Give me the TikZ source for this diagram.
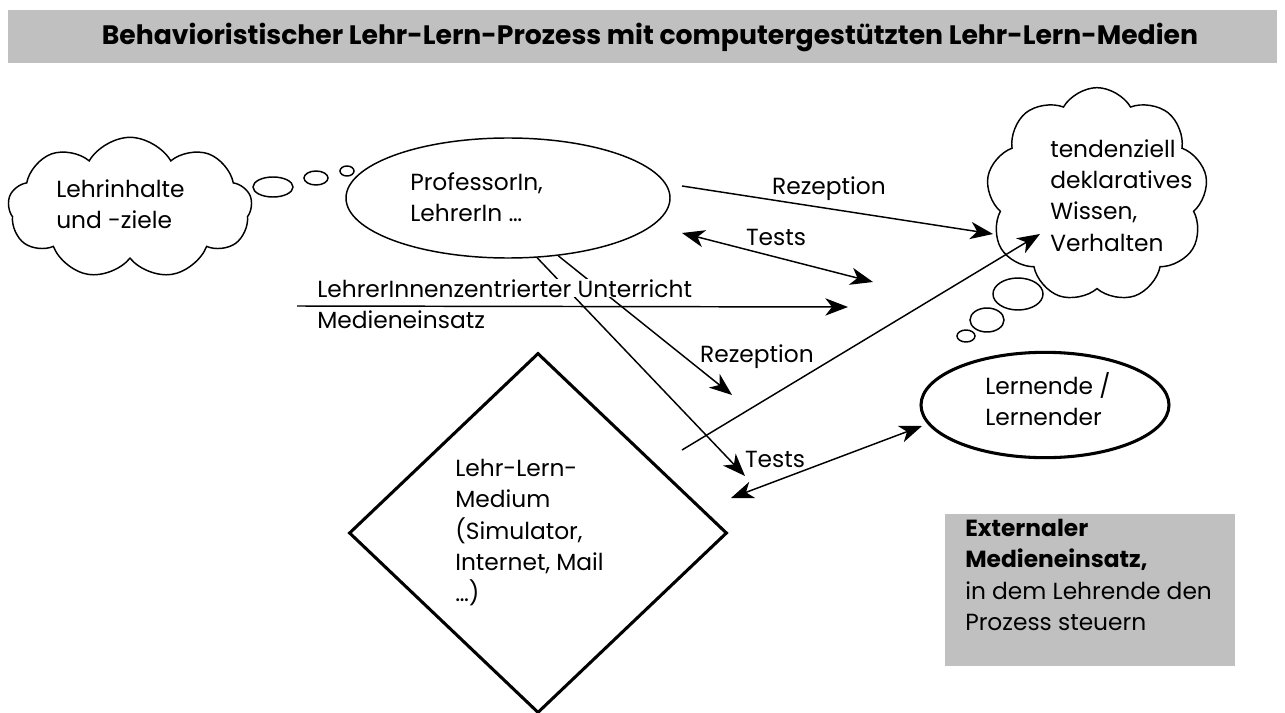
\documentclass[tikz,border=0pt]{standalone}
\usepackage{fontspec}
\setmainfont{Poppins}
\usetikzlibrary{shapes.geometric,shapes.symbols,arrows.meta}
\definecolor{boxgray}{HTML}{C0C0C0}

\begin{document}
\begin{tikzpicture}[x=0.75pt,y=-0.75pt,
  txt/.style={align=left,inner sep=0pt,font=\fontsize{17.5}{23.5}\selectfont},
  lbl/.style={inner sep=0pt,font=\fontsize{17.5}{23.5}\selectfont},
  thin line/.style={line width=1.1pt},
  thick line/.style={line width=2.3pt},
  bubble/.style={ellipse,draw,thin line,inner sep=0pt},
  thought/.style={cloud,draw,thin line,cloud puffs=9,cloud puff arc=120,cloud ignores aspect,inner sep=0pt},
  arr/.style={thin line,-{Stealth[length=17pt,width=13pt,inset=5pt]}},
  dblarr/.style={thin line,{Stealth[length=17pt,width=13pt,inset=5pt]}-{Stealth[length=17pt,width=13pt,inset=5pt]}}]

\useasboundingbox (0,0) rectangle (1285,713);

% Title bar
\fill[boxgray] (8,10) rectangle (1277,63);
\node[font=\fontsize{20}{24}\selectfont\bfseries] (title) at (650,37)
  {Behavioristischer Lehr-Lern-Prozess mit computergestützten Lehr-Lern-Medien};

% Left cloud with thought bubbles
\node[thought,minimum width=183pt,minimum height=106pt] (goals) at (130,208) {};
\node[txt,anchor=north west] (goalstxt) at (56,179) {Lehrinhalte\\und -ziele};
\node[bubble,minimum width=30pt,minimum height=15pt] (gb1) at (273,187) {};
\node[bubble,minimum width=18pt,minimum height=10.5pt] (gb2) at (316,178) {};
\node[bubble,minimum width=10.5pt,minimum height=7.5pt] (gb3) at (347,171) {};

% Teacher
\node[ellipse,draw,thin line,minimum width=243pt,minimum height=90pt,inner sep=0pt] (prof) at (508,198) {};
\node[txt,anchor=north west] (proftxt) at (410,172) {ProfessorIn,\\LehrerIn …};

% Right cloud with thought bubbles
\node[thought,minimum width=166pt,minimum height=161pt] (know) at (1097,195) {};
\node[txt,anchor=north west] (knowtxt) at (1050,139) {tendenziell\\deklaratives\\Wissen,\\Verhalten};
\node[bubble,minimum width=37.5pt,minimum height=24pt] (kb1) at (1018,294) {};
\node[bubble,minimum width=25.5pt,minimum height=18pt] (kb2) at (987,320) {};
\node[bubble,minimum width=13.5pt,minimum height=9pt] (kb3) at (966,336) {};

% Learner
\node[ellipse,draw,thick line,minimum width=186pt,minimum height=79pt,inner sep=0pt] (learner) at (1045,405) {};
\node[txt,anchor=north west] (learnertxt) at (985,372) {Lernende /\\Lernender};

% Medium
\node[diamond,draw,thick line,minimum width=283.5pt,minimum height=270pt,inner sep=0pt] (medium) at (538,533) {};
\node[txt,anchor=north west] (mediumtxt) at (455,459) {Lehr-Lern-\\Medium\\(Simulator,\\Internet, Mail\\…)};

% Free ends of the connectors
\coordinate (recA) at (682,186);
\coordinate (recB) at (993,234);
\coordinate (tstA) at (682,233);
\coordinate (tstB) at (873,282);
\coordinate (lecA) at (297,306);
\coordinate (lecB) at (848,307);
\coordinate (medrec) at (732,395);
\coordinate (medtst) at (745,476);
\coordinate (recC) at (682,450);
\coordinate (recD) at (1040,234);
\coordinate (tstC) at (731,498);
\coordinate (tstD) at (922,426);

% Connectors
\draw[arr] (recA) -- (recB);
\draw[dblarr] (tstA) -- (tstB);
\draw[arr] (lecA) -- (lecB);
\draw[arr] (prof.-64) -- (medtst);
\draw[arr] (prof.-49) -- (medrec);
\draw[arr] (recC) -- (recD);
\draw[dblarr] (tstC) -- (tstD);

% Labels
\node[lbl] (rec1) at (829,189) {Rezeption};
\node[lbl] (tst1) at (776,237) {Tests};
\node[lbl] (rec2) at (757,357) {Rezeption};
\node[lbl] (tst2) at (775,459) {Tests};
\node[txt,anchor=north west,fill=white] (lecture) at (317,279) {LehrerInnenzentrierter Unterricht};
\node[txt,anchor=north west] (usage) at (317,310) {Medieneinsatz};

% Note box
\fill[boxgray] (945,514) rectangle (1235,666);
\node[txt,anchor=north west] (note) at (965,519)
  {\textbf{Externaler}\\\textbf{Medieneinsatz,}\\in dem Lehrende den\\Prozess steuern};

\end{tikzpicture}
\end{document}
